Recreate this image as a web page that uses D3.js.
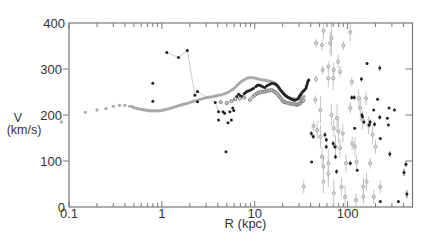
<!DOCTYPE html>
<html lang="en">
<head>
<meta charset="UTF-8">
<title>Rotation curve</title>
<script src="https://cdn.jsdelivr.net/npm/d3@7"></script>
<style>
  body { margin: 0; background: #fff; }
  text { font-family: "Liberation Sans", Arial, sans-serif; fill: #333; }
</style>
</head>
<body>
<div id="chart"></div>
<script>
// smooth light gray curve [R kpc, V km/s]
const grayCurve = [[0.083,185],[0.15,206],[0.2,211],[0.25,214],[0.3,219],[0.35,221],[0.4,221],[0.45,219],[0.48,218],
  [0.5,216],[0.53,215],[0.55,214],[0.58,213],[0.6,212],[0.63,211.5],[0.65,211],[0.68,210.5],[0.7,210],[0.73,209.5],
  [0.75,209],[0.78,209],[0.8,209],[0.84,209],[0.88,209],[0.91,209],[0.95,209],[1.0,210],[1.05,211],[1.1,212],
  [1.15,213],[1.2,214],[1.25,215],[1.32,216.5],[1.4,218],[1.47,219.5],[1.55,221],[1.62,222],[1.7,223],[1.78,224],
  [1.86,225],[1.95,226.5],[2.05,228],[2.17,229.5],[2.3,231],[2.44,232.5],[2.58,234],[2.74,235.5],[2.9,237],
  [3.05,238],[3.2,239],[3.4,239.5],[3.58,240],[3.75,241],[3.9,242],[4.15,243],[4.4,244],[4.7,246],[5.0,248],
  [5.25,250],[5.5,253],[5.75,255],[6.0,258],[6.25,261],[6.5,265],[6.75,268],[7.0,271],[7.3,274],[7.6,276],
  [7.95,278],[8.3,280],[8.6,281],[8.9,281],[9.25,281],[9.6,281],[10.1,280],[10.6,279],[11.0,278],[11.5,277],
  [12.0,276.5],[12.5,276],[13.0,275.5],[13.5,275],[14.1,274],[14.7,273],[15.2,272],[15.8,271],[16.3,270],
  [16.8,268],[17.3,265],[17.8,262],[18.3,258],[18.9,255],[19.4,252],[20.0,249],[20.6,246],[21.3,243],[22.2,240],
  [22.9,239],[23.6,238],[24.3,237],[25.0,236],[25.7,235.5],[26.5,235],[27.2,234.5],[28.0,234],[28.7,234.5],
  [29.5,235],[30.2,235.5],[31.0,236],[31.7,237],[32.5,238],[33.2,239],[34.0,240]];

// black dense curve
const blackCurve = [[6.1,234],[6.4,240],[6.7,245],[7.0,242],[7.3,240],[7.7,246],[8.0,249],[8.2,251],[8.5,252],
  [8.9,254],[9.3,256],[9.7,258],[10.3,262],[10.6,264],[11.0,265],[11.4,264],[11.8,263],[12.3,261],[12.9,260],
  [13.4,263],[14.0,265],[14.6,267],[15.3,269],[16.2,268],[16.7,267],[17.3,265],[17.8,262],[18.4,258],[19.0,254],
  [19.6,251],[20.2,248],[20.8,245],[21.5,242],[22.2,240],[23.0,238],[24.0,236],[25.0,234],[26.0,233],[27.0,232],
  [28.0,233],[29.3,236],[30.0,239],[30.5,242],[31.2,244],[31.8,247],[32.6,250],[33.5,252],[34.5,255],[35.6,258],
  [36.0,262],[36.5,266],[37.0,270],[37.5,274],[38.2,276]];

// medium gray open circles
const openCurve = [[4.3,228],[5.0,226],[5.6,230],[6.2,235],[6.9,236],[7.7,238],[8.9,233],[9.6,240],[10.1,244],
  [10.6,247],[11.1,249],[11.6,250],[12.3,250.5],[12.9,251],[13.4,252],[14.0,253],[14.6,253.5],[15.3,254],[16.0,252],
  [16.6,250],[17.3,247],[18.0,243],[18.6,239],[19.2,236],[19.8,232],[20.4,229],[21.2,228],[22.0,227],[23.1,226],
  [24.2,225],[25.1,224.5],[26.0,224],[27.2,223],[28.5,222],[29.2,223],[30.0,224],[30.9,226],[31.8,229],[32.6,230.5],
  [33.5,232]];

// inner black points
const innerBlack = [[0.80,269],[0.80,230],[1.13,336],[1.51,325],[1.88,340],[2.27,243],[2.42,251],[2.42,229],
  [3.76,227],[4.08,207],[4.08,189],[4.56,207],[4.75,204],[4.9,120],[5.15,183],[5.4,207],[5.6,189],[5.8,215],[5.95,210]];
const innerLink = [[1.13,336],[1.51,325],[1.88,340],[2.27,243],[2.42,251],[3.76,227],[4.08,207]];

// outer halo tracers [R, V, error]
const outerGray = [[33.7,44,14],[45,233,10],[45.8,278,8],[45.8,356,10],[53,352,12],[55,383,18],[54,298,10],
  [51,211,30],[43,176,10],[47,167,20],[51,153,25],[53,109,20],[55,88,25],[55,55,25],[62,95,30],[62,73,30],
  [62,280,20],[62,305,12],[67,367,40],[65,356,25],[70,280,25],[71,298,15],[67,200,25],[71,171,20],[77,193,30],
  [74,131,25],[71,30,30],[79,316,15],[83,294,12],[80,164,25],[83,128,20],[86,44,20],[89,160,20],[90,351,10],
  [94,22,25],[96,95,20],[107,380,20],[107,215,12],[111,272,10],[112,138,15],[120,131,20],[123,15,15],[125,98,15],
  [132,236,20],[137,215,25],[145,189,20],[148,44,20],[148,22,15],[158,236,15],[160,55,20],[168,178,20],
  [175,95,12],[186,157,20],[191,22,15],[200,131,15],[225,44,15]];
const outerBlack = [[40.7,160,5],[41,98,0],[42.7,153,5],[57,157,5],[59,146,5],[59,131,5],[70,138,5],[73,131,5],
  [74,109,5],[76,77,5],[107,95,5],[111,238,5],[118,238,5],[119,171,0],[127,80,0],[141,278,5],[143,200,5],
  [145,196,5],[150,185,5],[162,312,3],[171,178,5],[175,185,5],[191,211,0],[195,180,5],[210,234,0],[222,302,6],
  [222,195,5],[225,149,0],[225,12,0],[268,193,0],[275,178,0],[280,215,0],[285,115,6],[320,211,0],[352,12,0],
  [405,75,8],[425,93,6],[435,28,8]];

const xTickLabels = [0.1, 1, 10, 100];
const yTickLabels = [0, 100, 200, 300, 400];

const w = 436, h = 246;
const m = {left: 69, right: 412.5, top: 23, bottom: 207};

const svg = d3.select('#chart').append('svg').attr('width', w).attr('height', h);

const x = d3.scaleLog().domain([0.1, 500]).range([m.left, m.right]);
const y = d3.scaleLinear().domain([0, 400]).range([m.bottom, m.top]);

// minor + major log ticks
let logTicks = [];
for (let d = 0.1; d < 500; d *= 10) {
  for (let k = 1; k < 10; k++) {
    let v = +(d * k).toPrecision(3);
    if (v <= 500) logTicks.push(v);
  }
}

const axisColor = '#777';

// bottom ticks (inward)
svg.append('g').selectAll('line').data(logTicks).enter().append('line')
  .attr('x1', d => x(d)).attr('x2', d => x(d))
  .attr('y1', m.bottom).attr('y2', d => m.bottom - (xTickLabels.includes(d) ? 6 : 4))
  .attr('stroke', axisColor);
// top ticks (inward)
svg.append('g').selectAll('line').data(logTicks).enter().append('line')
  .attr('x1', d => x(d)).attr('x2', d => x(d))
  .attr('y1', m.top).attr('y2', d => m.top + (xTickLabels.includes(d) ? 6 : 4))
  .attr('stroke', axisColor);
// left ticks (outward) and right ticks (inward)
const yInner = yTickLabels.filter(d => d > 0 && d < 400);
svg.append('g').selectAll('line').data(yInner).enter().append('line')
  .attr('x1', m.left - 6).attr('x2', m.left).attr('y1', d => y(d)).attr('y2', d => y(d))
  .attr('stroke', axisColor);
svg.append('g').selectAll('line').data(yInner).enter().append('line')
  .attr('x1', m.right - 7).attr('x2', m.right).attr('y1', d => y(d)).attr('y2', d => y(d))
  .attr('stroke', axisColor);

// tick labels
svg.append('g').selectAll('text').data(xTickLabels).enter().append('text')
  .attr('x', d => x(d)).attr('y', 218).attr('text-anchor', 'middle')
  .attr('font-size', 13).text(d => d);
svg.append('g').selectAll('text').data(yTickLabels).enter().append('text')
  .attr('x', d => (d === 0 || d === 400) ? 65 : 62).attr('y', d => y(d) + 4.5).attr('text-anchor', 'end')
  .attr('font-size', 13).text(d => d);

// axis titles
svg.append('text').attr('x', 18).attr('y', 122).attr('text-anchor', 'middle').attr('font-size', 12.5).text('V');
svg.append('text').attr('x', 24).attr('y', 134).attr('text-anchor', 'middle').attr('font-size', 12.5).text('(km/s)');
svg.append('text').attr('x', 245.5).attr('y', 228).attr('text-anchor', 'middle').attr('font-size', 13).text('R (kpc)');

// data
const g = svg.append('g');

// error bars
g.selectAll('.eg').data(outerGray).enter().append('line')
  .attr('x1', d => x(d[0])).attr('x2', d => x(d[0]))
  .attr('y1', d => y(Math.min(d[1] + d[2], 400))).attr('y2', d => y(Math.max(d[1] - d[2], 0)))
  .attr('stroke', '#c4c4c4').attr('stroke-width', 1);
g.selectAll('.eb').data(outerBlack.filter(d => d[2] > 0)).enter().append('line')
  .attr('x1', d => x(d[0])).attr('x2', d => x(d[0]))
  .attr('y1', d => y(d[1] + d[2])).attr('y2', d => y(d[1] - d[2]))
  .attr('stroke', '#555').attr('stroke-width', 1);

// connecting line of inner points
g.append('path').datum(innerLink)
  .attr('d', d3.line().x(d => x(d[0])).y(d => y(d[1])))
  .attr('fill', 'none').attr('stroke', '#bbb').attr('stroke-width', 0.8);

g.selectAll('.gc').data(grayCurve).enter().append('circle')
  .attr('cx', d => x(d[0])).attr('cy', d => y(d[1])).attr('r', 1.6)
  .attr('fill', '#a8a8a8');

g.selectAll('.og').data(outerGray).enter().append('circle')
  .attr('cx', d => x(d[0])).attr('cy', d => y(d[1])).attr('r', 1.6)
  .attr('fill', '#ddd').attr('stroke', '#999').attr('stroke-width', 0.8);

g.selectAll('.bc').data(blackCurve).enter().append('circle')
  .attr('cx', d => x(d[0])).attr('cy', d => y(d[1])).attr('r', 1.5)
  .attr('fill', '#222');

g.selectAll('.oc').data(openCurve).enter().append('circle')
  .attr('cx', d => x(d[0])).attr('cy', d => y(d[1])).attr('r', 1.6)
  .attr('fill', '#ccc').attr('stroke', '#777').attr('stroke-width', 0.9);

g.selectAll('.ib').data(innerBlack.concat(outerBlack)).enter().append('circle')
  .attr('cx', d => x(d[0])).attr('cy', d => y(d[1])).attr('r', 1.5)
  .attr('fill', '#222');

// frame
svg.append('rect')
  .attr('x', m.left).attr('y', m.top).attr('width', m.right - m.left).attr('height', m.bottom - m.top)
  .attr('fill', 'none').attr('stroke', axisColor).attr('stroke-width', 1.2);
</script>
</body>
</html>
